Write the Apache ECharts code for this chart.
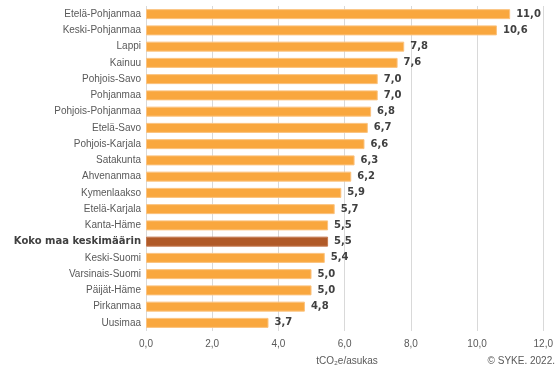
<!DOCTYPE html>
<html><head><meta charset="utf-8">
<script src="https://cdn.jsdelivr.net/npm/echarts@6/dist/echarts.min.js"></script>
<style>html,body{margin:0;padding:0;background:#fff}#c{width:556px;height:369px}</style>
</head><body><div id="c"></div>
<script>
const categories = ["Etelä-Pohjanmaa","Keski-Pohjanmaa","Lappi","Kainuu","Pohjois-Savo","Pohjanmaa","Pohjois-Pohjanmaa","Etelä-Savo","Pohjois-Karjala","Satakunta","Ahvenanmaa","Kymenlaakso","Etelä-Karjala","Kanta-Häme","Koko maa keskimäärin","Keski-Suomi","Varsinais-Suomi","Päijät-Häme","Pirkanmaa","Uusimaa"];
const values = [11.0,10.6,7.8,7.6,7.0,7.0,6.8,6.7,6.6,6.3,6.2,5.9,5.7,5.5,5.5,5.4,5.0,5.0,4.8,3.7];
const highlight = "Koko maa keskimäärin";
const xTicks = [0,2,4,6,8,10,12];
const unitLabel = "tCO₂e/asukas";
const sourceLabel = "© SYKE. 2022.";

const chart = echarts.init(document.getElementById('c'), null, {renderer:'canvas'});
chart.setOption({
  animation:false,
  backgroundColor:'#fff',
  grid:{left:146,right:8,top:6,bottom:38,containLabel:false},
  xAxis:{type:'value',min:xTicks[0],max:xTicks[xTicks.length-1],interval:2,
    axisLine:{show:false},axisTick:{show:false},
    splitLine:{lineStyle:{color:'#d9d9d9',width:1}},
    axisLabel:{color:'#595959',fontSize:10,fontFamily:'Liberation Sans',margin:8,
      formatter:v=>v.toFixed(1).replace('.',',')}},
  yAxis:{type:'category',data:categories,inverse:true,
    axisLine:{show:false},axisTick:{show:false},
    axisLabel:{margin:5,fontSize:10,fontFamily:'Liberation Sans',color:'#595959',
      formatter:v=> v===highlight ? '{b|'+v+'}' : v,
      rich:{b:{fontFamily:'DejaVu Sans',fontWeight:'bold',fontSize:10,color:'#404040'}}}},
  series:[{type:'bar',barWidth:10,
    data:values.map((v,i)=>({value:v,itemStyle:{color:categories[i]===highlight?'#B05A28':'#F9A73E',
      borderColor:categories[i]===highlight?'#C57A50':'#FBC27E',borderWidth:1}})),
    label:{show:true,position:'right',distance:6,fontFamily:'DejaVu Sans',fontWeight:'bold',fontSize:10,color:'#404040',
      formatter:p=>p.value.toFixed(1).replace('.',',')}}],
  graphic:[
    {type:'text',x:347,y:356,style:{text:unitLabel,fontSize:10,fontFamily:'Liberation Sans',fill:'#595959',align:'center',textAlign:'center'}},
    {type:'text',x:555,y:356,style:{text:sourceLabel,fontSize:10,fontFamily:'Liberation Sans',fill:'#595959',align:'right',textAlign:'right'}}
  ]
});
</script></body></html>
